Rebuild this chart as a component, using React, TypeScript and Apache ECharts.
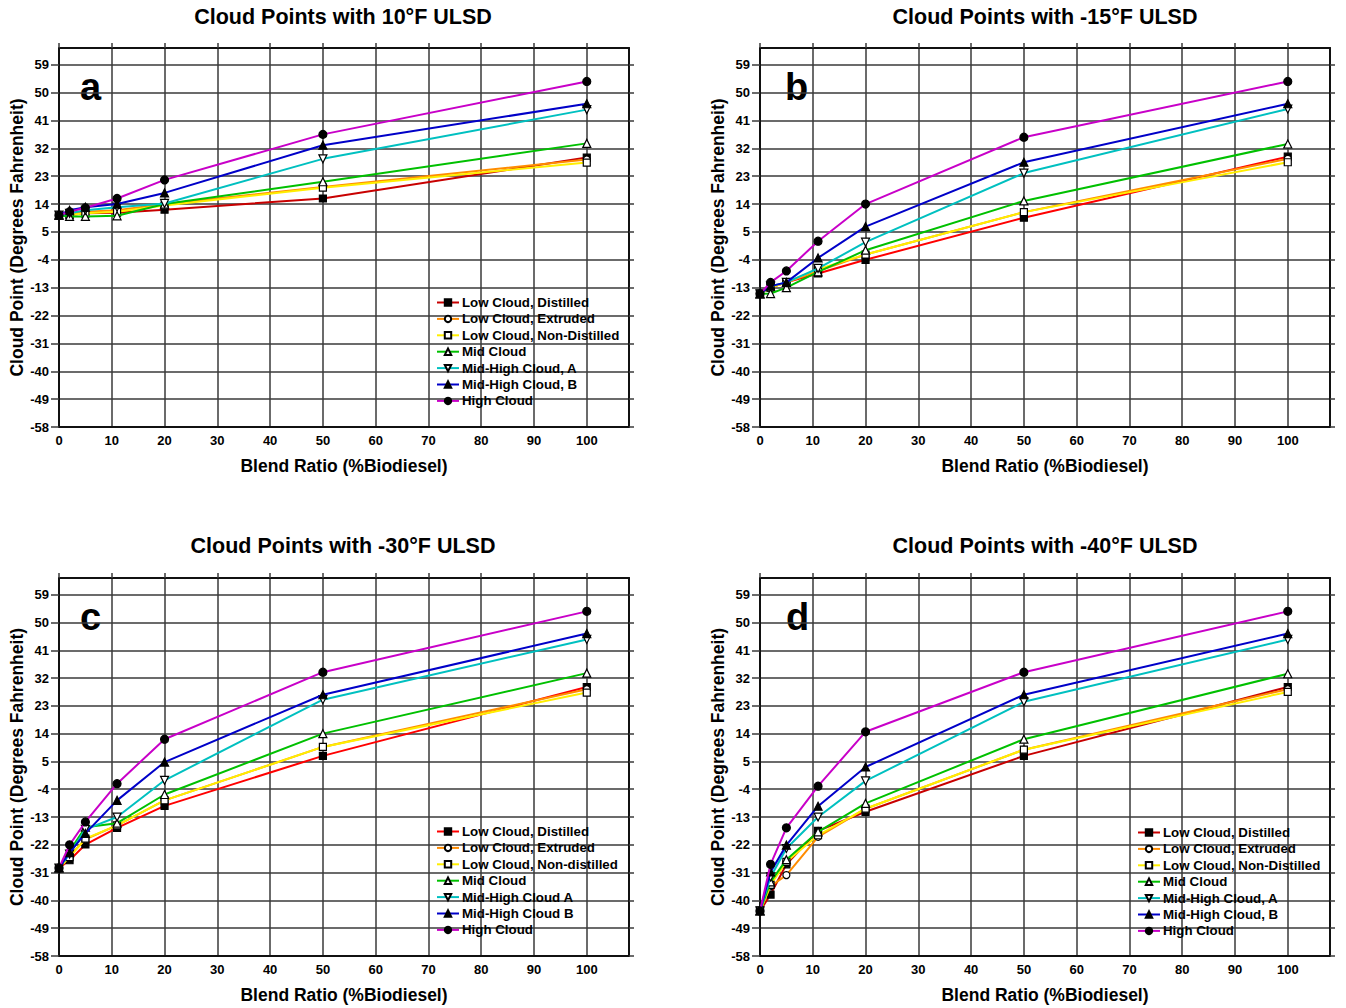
import React, { useEffect, useRef } from "react";
import * as echarts from "echarts";

// ---------- DATA ----------
const blendRatio = [0, 2, 5, 11, 20, 50, 100];
const xTickValues = [0, 10, 20, 30, 40, 50, 60, 70, 80, 90, 100];
const yTickValues = [-58, -49, -40, -31, -22, -13, -4, 5, 14, 23, 32, 41, 50, 59];

const panelTitles = [
  "Cloud Points with 10°F ULSD",
  "Cloud Points with -15°F ULSD",
  "Cloud Points with -30°F ULSD",
  "Cloud Points with -40°F ULSD",
];
const panelLetters = ["a", "b", "c", "d"];

const namesStd = [
  "Low Cloud, Distilled",
  "Low Cloud, Extruded",
  "Low Cloud, Non-Distilled",
  "Mid Cloud",
  "Mid-High Cloud, A",
  "Mid-High Cloud, B",
  "High Cloud",
];
const namesC = [
  "Low Cloud, Distilled ",
  "Low Cloud, Extruded ",
  "Low Cloud, Non-distilled",
  "Mid Cloud ",
  "Mid-High Cloud A",
  "Mid-High Cloud B",
  "High Cloud ",
];

// Panel a: 10°F ULSD
const a_lowDistilled = [10.4, 10.5, 11, 11.2, 12.2, 15.8, 29];
const a_lowExtruded = [10.4, 10.8, 11.5, 12, 14, 19.5, 28.4];
const a_lowNonDistilled = [10.4, 10.5, 11, 11.5, 13.5, 19.3, 27.4];
const a_mid = [10.4, 10, 10, 10.2, 14, 21.2, 33.6];
const a_midHighA = [10.4, 11, 12, 13, 14.2, 28.6, 44.5];
const a_midHighB = [10.4, 12, 13, 14, 17.6, 33, 46.4];
const a_high = [10.4, 11.5, 12.8, 15.8, 21.8, 36.5, 53.6];

// Panel b: -15°F ULSD
const b_lowDistilled = [-15, -13, -11.3, -8.4, -4, 9.6, 29.3];
const b_lowExtruded = [-15, -13, -11.3, -7.6, -2.3, 11.4, 28.6];
const b_lowNonDistilled = [-15, -13, -11.3, -7, -2.3, 11.4, 27.5];
const b_mid = [-15, -14.9, -13, -7.9, -0.9, 15, 33.4];
const b_midHighA = [-15, -12.5, -11.3, -6.8, 1.7, 24, 44.7];
const b_midHighB = [-15, -12.5, -11.3, -3.4, 6.7, 27.5, 46.4];
const b_high = [-15, -11.3, -7.6, 2, 14, 35.6, 53.6];

// Panel c: -30°F ULSD
const c_lowDistilled = [-29.5, -27, -21.9, -16.5, -9.4, 6.8, 29.1];
const c_lowExtruded = [-29.5, -25.6, -20.2, -15.7, -7.6, 9.7, 28.4];
const c_lowNonDistilled = [-29.5, -26, -20, -15.7, -7.6, 9.7, 27.3];
const c_mid = [-29.5, -24, -16.3, -15, -5.7, 14, 33.6];
const c_midHighA = [-29.5, -25, -17, -13, -1.1, 25, 44.5];
const c_midHighB = [-29.5, -24.5, -18.3, -7.6, 4.8, 26.6, 46.4];
const c_high = [-29.5, -22, -14.6, -2.2, 12.2, 33.9, 53.6];

// Panel d: -40°F ULSD
const d_lowDistilled = [-43.4, -38.1, -28.3, -17.5, -11.3, 6.8, 29.1];
const d_lowExtruded = [-43.4, -35.4, -31.8, -19.4, -10.3, 8.8, 28.4];
const d_lowNonDistilled = [-43.4, -35, -27.5, -18.9, -10.3, 8.8, 27.5];
const d_mid = [-43.4, -34, -26.8, -17.8, -8.6, 12.2, 33.4];
const d_midHighA = [-43.4, -32.4, -23.2, -13, -1.3, 24.3, 44.5];
const d_midHighB = [-43.4, -30.8, -22.1, -9.5, 3.2, 26.6, 46.4];
const d_high = [-43.4, -28.3, -16.5, -3, 14.6, 33.9, 53.6];

const panelData = [
  [a_lowDistilled, a_lowExtruded, a_lowNonDistilled, a_mid, a_midHighA, a_midHighB, a_high],
  [b_lowDistilled, b_lowExtruded, b_lowNonDistilled, b_mid, b_midHighA, b_midHighB, b_high],
  [c_lowDistilled, c_lowExtruded, c_lowNonDistilled, c_mid, c_midHighA, c_midHighB, c_high],
  [d_lowDistilled, d_lowExtruded, d_lowNonDistilled, d_mid, d_midHighA, d_midHighB, d_high],
];
const panelNames = [namesStd, namesStd, namesC, namesStd];

// ---------- STYLE ----------
const FONT = "Arial, 'Liberation Sans', sans-serif";
const redByPanel = ["#c80000", "#ff0000", "#ff0000", "#c80000"];
const lineColors = ["#ff0000", "#ff8c00", "#ffee00", "#00c000", "#00c0c0", "#0000c8", "#c800c8"];
const symbols = ["rect", "circle", "rect", "triangle", "triangle", "triangle", "circle"];
const symbolRotates = [0, 0, 0, 0, 180, 0, 0];
const symbolFills = ["#000", "#fff", "#fff", "#fff", "#fff", "#000", "#000"];
const symbolSizes = [7, 7, 7, 8, 8, 8, 8];

const gridLayout = [
  { left: 59, top: 48, width: 570, height: 379 },
  { left: 760, top: 48, width: 570, height: 379 },
  { left: 59, top: 578, width: 570, height: 378 },
  { left: 760, top: 578, width: 570, height: 378 },
];
const titleCenters = [
  [343, 17],
  [1045, 17],
  [343, 546],
  [1045, 546],
];
const letterPos = [
  [80, 68],
  [785, 68],
  [80, 598],
  [786, 598],
];
const legendPos = [
  { left: 436, top: 296 },
  null,
  { left: 436, top: 825 },
  { left: 1137, top: 826 },
];

const X_MAX = 108;
const Y_MIN = -58;
const Y_MAX = 64.4;
const GRID_COLOR = "#3a3a3a";

function buildOption() {
  const grid: any[] = [];
  const xAxis: any[] = [];
  const yAxis: any[] = [];
  const series: any[] = [];
  const legend: any[] = [];
  const graphic: any[] = [];

  for (let p = 0; p < 4; p++) {
    grid.push({ ...gridLayout[p], containLabel: false });
    const tickStyle = { color: GRID_COLOR, width: 1.5 };
    xAxis.push({
      gridIndex: p,
      type: "value",
      position: "bottom",
      min: 0,
      max: X_MAX,
      interval: 10,
      axisLine: { show: true, onZero: false, lineStyle: { color: "#111", width: 2 } },
      axisTick: { show: false, customValues: xTickValues },
      axisLabel: {
        customValues: xTickValues,
        margin: 7,
        color: "#000",
        fontWeight: "bold",
        fontSize: 13,
        fontFamily: FONT,
      },
      splitLine: { show: true, lineStyle: tickStyle },
      name: "Blend Ratio (%Biodiesel)",
      nameLocation: "middle",
      nameGap: 30,
      nameTextStyle: { color: "#000", fontWeight: "bold", fontSize: 17.5, fontFamily: FONT },
    });
    xAxis.push({
      gridIndex: p,
      type: "value",
      position: "top",
      min: 0,
      max: X_MAX,
      interval: 10,
      axisLine: { show: true, onZero: false, lineStyle: { color: "#111", width: 2 } },
      axisTick: { show: true, inside: false, length: 5, customValues: xTickValues, lineStyle: tickStyle },
      axisLabel: { show: false },
      splitLine: { show: false },
    });
    yAxis.push({
      gridIndex: p,
      type: "value",
      position: "left",
      min: Y_MIN,
      max: Y_MAX,
      axisLine: { show: true, onZero: false, lineStyle: { color: "#111", width: 2 } },
      axisTick: { show: true, inside: false, length: 8, customValues: yTickValues, lineStyle: tickStyle },
      axisLabel: {
        customValues: yTickValues,
        margin: 10,
        color: "#000",
        fontWeight: "bold",
        fontSize: 13,
        fontFamily: FONT,
      },
      splitLine: { show: true, lineStyle: tickStyle },
      name: "Cloud Point (Degrees Fahrenheit)",
      nameLocation: "middle",
      nameGap: 32,
      nameTextStyle: { color: "#000", fontWeight: "bold", fontSize: 17.5, fontFamily: FONT },
    });
    yAxis.push({
      gridIndex: p,
      type: "value",
      position: "right",
      min: Y_MIN,
      max: Y_MAX,
      axisLine: { show: true, onZero: false, lineStyle: { color: "#111", width: 2 } },
      axisTick: { show: true, inside: false, length: 5, customValues: yTickValues, lineStyle: tickStyle },
      axisLabel: { show: false },
      splitLine: { show: false },
    });

    const names = panelNames[p];
    for (let s = 0; s < 7; s++) {
      const lc = s === 0 ? redByPanel[p] : lineColors[s];
      series.push({
        type: "line",
        name: names[s],
        xAxisIndex: p * 2,
        yAxisIndex: p * 2,
        data: blendRatio.map((x, i) => [x, panelData[p][s][i]]),
        symbol: symbols[s],
        symbolRotate: symbolRotates[s],
        symbolSize: symbolSizes[s],
        showAllSymbol: true,
        color: lc,
        lineStyle: { color: lc, width: 2 },
        itemStyle: { color: symbolFills[s], borderColor: "#000", borderWidth: 1.2 },
        z: 3 + s,
      });
    }

    if (legendPos[p]) {
      legend.push({
        ...legendPos[p],
        orient: "vertical",
        data: names,
        itemWidth: 22,
        itemHeight: 8,
        itemGap: 3.4,
        padding: 0,
        selectedMode: false,
        textStyle: { color: "#000", fontWeight: "bold", fontSize: 13.3, fontFamily: FONT, padding: [0, 0, 0, -2] },
      });
    }

    graphic.push({
      type: "text",
      x: titleCenters[p][0],
      y: titleCenters[p][1],
      style: {
        text: panelTitles[p],
        fill: "#000",
        font: `bold 21.5px ${FONT}`,
        textAlign: "center",
        textVerticalAlign: "middle",
      },
    });
    graphic.push({
      type: "text",
      x: letterPos[p][0],
      y: letterPos[p][1],
      style: {
        text: panelLetters[p],
        fill: "#000",
        font: `bold 38px ${FONT}`,
        textAlign: "left",
        textVerticalAlign: "top",
      },
    });
  }

  return {
    animation: false,
    backgroundColor: "#fff",
    grid,
    xAxis,
    yAxis,
    series,
    legend,
    graphic,
  };
}

export default function App() {
  const ref = useRef<HTMLDivElement>(null);
  useEffect(() => {
    if (!ref.current) return;
    const chart = echarts.init(ref.current, null, { renderer: "svg" });
    chart.setOption(buildOption());
    return () => chart.dispose();
  }, []);
  return (
    <div
      ref={ref}
      style={{ position: "absolute", left: 0, top: 0, width: 1346, height: 1008, background: "#fff" }}
    />
  );
}
